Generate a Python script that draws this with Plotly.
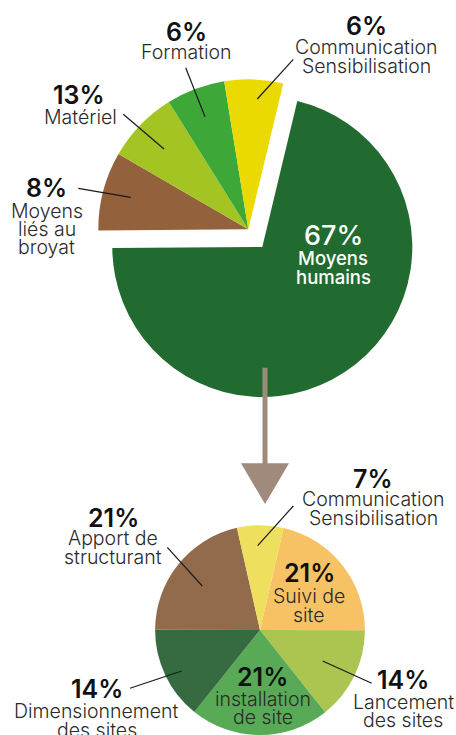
import plotly.graph_objects as go

W, H = 456, 735

# ---------------- data ----------------
top_names = ["Moyens humains", "Moyens liés au broyat", "Matériel", "Formation",
             "Communication Sensibilisation"]
top_pct_text = ["67%", "8%", "13%", "6%", "6%"]
top_shares = [256.7, 30.6, 28.0, 22.8, 22.8]   # slice sizes as drawn in the picture
top_colors = ["#226B30", "#93613B", "#A3C423", "#3DA838", "#EBDA02"]

bot_names = ["Suivi de site", "Lancement des sites", "installation de site",
             "Dimensionnement des sites", "Apport de structurant",
             "Communication Sensibilisation"]
bot_pct_text = ["21%", "14%", "21%", "14%", "21%", "7%"]
bot_shares = [21, 14, 21, 14, 21, 7]
bot_colors = ["#F7C264", "#ACC450", "#58AA56", "#366B41", "#916B4B", "#EEDF5E"]


def px(x):
    return x / W


def py(y):
    return 1 - y / H


FONT = "Inter"
LBL_COL = "#2a2a2a"
PCT_COL = "#111111"

fig = go.Figure()

# top pie: centre (248.3, 229.3), radius 150, pull 0.15
tc_x, tc_y, tr, pull = 248.3, 229.3, 150, 0.15
half = tr * (1 + pull)
fig.add_trace(go.Pie(
    labels=top_names, values=top_shares, sort=False, direction="clockwise",
    rotation=13.5, pull=[pull, 0, 0, 0, 0],
    marker=dict(colors=top_colors, line=dict(width=0)),
    textinfo="none", hoverinfo="label", showlegend=False,
    domain=dict(x=[px(tc_x - half), px(tc_x + half)],
                y=[py(tc_y + half), py(tc_y - half)]),
))

# bottom pie
bc_x, br = 260, 106.5
fig.add_trace(go.Pie(
    labels=bot_names, values=bot_shares, sort=False, direction="clockwise",
    rotation=13,
    marker=dict(colors=bot_colors, line=dict(width=0)),
    textinfo="none", hoverinfo="label", showlegend=False,
    domain=dict(x=[px(bc_x - br), px(bc_x + br)], y=[0, py(525.2)]),
))

annotations = []


def ann(text, x, y, size, weight, color):
    annotations.append(dict(
        text=text, x=px(x), y=py(y), xref="paper", yref="paper",
        xanchor="center", yanchor="middle", showarrow=False,
        font=dict(family=FONT, size=size, weight=weight, color=color)))


def pct(text, x, y):
    ann(text, x, y, 25, 600, PCT_COL)


def lbl(text, x, y):
    ann(text, x, y, 19.5, 300, LBL_COL)


# top labels
pct(top_pct_text[4], 366, 26)
lbl("Communication", 366, 47.3)
lbl("Sensibilisation", 366, 65.7)
pct(top_pct_text[3], 186.7, 31.7)
lbl("Formation", 186.7, 51.7)
pct(top_pct_text[2], 79, 95)
lbl("Matériel", 80, 116.7)
pct(top_pct_text[1], 46.7, 188.3)
lbl("Moyens", 46.7, 210.7)
lbl("liés au", 46.7, 229)
lbl("broyat", 46.7, 247.3)
ann(top_pct_text[0], 333.3, 235, 27, 500, "white")
ann("Moyens", 333.3, 258.3, 18.5, 500, "white")
ann("humains", 333.3, 276.7, 18.5, 500, "white")

# bottom labels
pct(bot_pct_text[5], 373.3, 479.3)
lbl("Communication", 373.3, 499.3)
lbl("Sensibilisation", 373.3, 517.7)
pct(bot_pct_text[4], 113.3, 517.7)
lbl("Apport de", 113.3, 538.3)
lbl("structurant", 113.3, 556.7)
pct(bot_pct_text[0], 309.3, 573.3)
lbl("Suivi de", 309.3, 595.7)
lbl("site", 309.3, 615)
pct(bot_pct_text[2], 262.7, 677.3)
lbl("installation", 262.7, 699)
lbl("de site", 262.7, 716.7)
pct(bot_pct_text[1], 402.7, 680)
lbl("Lancement", 403.3, 702.3)
lbl("des sites", 403.3, 720)
pct(bot_pct_text[3], 96.7, 689)
lbl("Dimensionnement", 96.7, 711)
lbl("des sites", 96.7, 729.5)

shapes = []


def leader(x0, y0, x1, y1):
    shapes.append(dict(type="line", xref="paper", yref="paper",
                       x0=px(x0), y0=py(y0), x1=px(x1), y1=py(y1),
                       line=dict(color="#1a1a1a", width=1.2)))


leader(185.7, 67.7, 205, 116.7)
leader(293.3, 59.3, 257.3, 99)
leader(123.3, 114.3, 164, 149)
leader(78.3, 188.3, 130.7, 197.3)
leader(167.3, 547.3, 202.3, 586)
leader(293.3, 506, 257.7, 545.7)
leader(322.7, 661, 371.7, 683.3)
leader(130, 688.3, 181.7, 671)

ARROW = "#A08A7C"
shapes.append(dict(type="line", xref="paper", yref="paper",
                   x0=px(265), y0=py(367.7), x1=px(265), y1=py(465),
                   line=dict(color=ARROW, width=5)))
shapes.append(dict(type="path", xref="paper", yref="paper",
                   path=f"M {px(241)},{py(463.3)} L {px(289)},{py(463.3)} L {px(265)},{py(504)} Z",
                   fillcolor=ARROW, line=dict(width=0)))

fig.update_layout(
    width=W, height=H, margin=dict(l=0, r=0, t=0, b=0),
    paper_bgcolor="white", plot_bgcolor="white",
    annotations=annotations, shapes=shapes, showlegend=False,
)

fig.write_html("out.html")
